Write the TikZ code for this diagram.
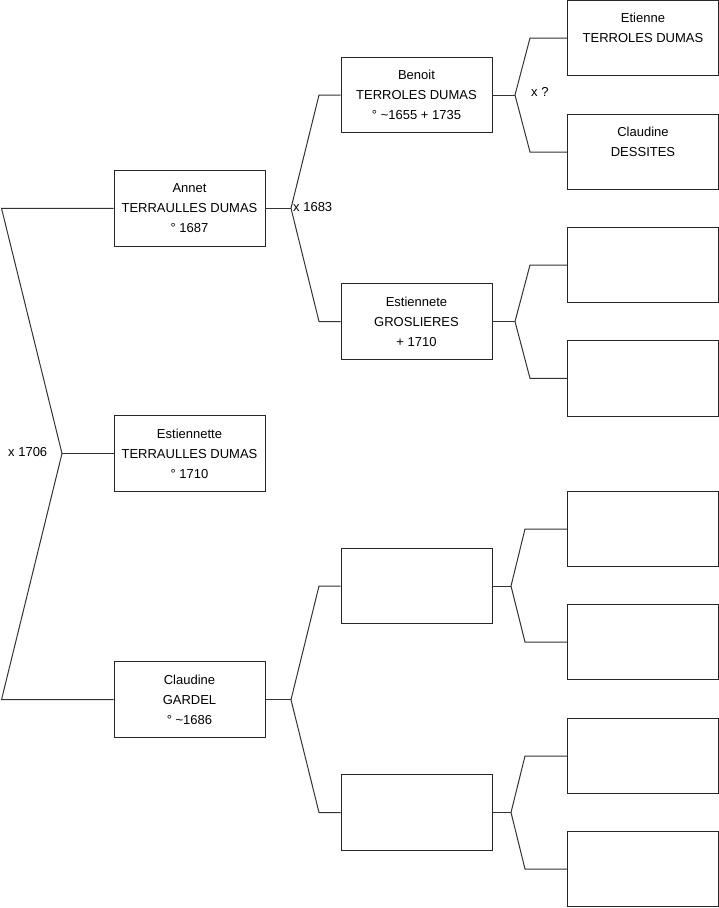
\documentclass[tikz,border=0pt]{standalone}
\usepackage{fontspec}
\setmainfont{Liberation Sans}
\begin{document}
\begin{tikzpicture}[x=1pt,y=-1pt,
  person/.style={draw=black!85,line width=1pt,fill=white,rectangle,minimum width=151pt,minimum height=75.5pt,inner sep=0pt,align=center,font=\fontsize{13}{20}\selectfont},
  link/.style={draw=black!80,line width=1pt},
  lbl/.style={inner sep=0pt,anchor=west,font=\fontsize{13}{16}\selectfont}]
\useasboundingbox (0,0) rectangle (719,908);
% generation 1
\node[person] (annet) at (189.5,208.3) {Annet\\TERRAULLES DUMAS\\° 1687};
\node[person] (estte) at (189.5,453.5) {Estiennette\\TERRAULLES DUMAS\\° 1710};
\node[person] (claud) at (189.5,699.7) {Claudine\\GARDEL\\° \textasciitilde1686};
% generation 2
\node[person] (benoit) at (416.5,95) {Benoit\\TERROLES DUMAS\\° \textasciitilde1655 + 1735};
\node[person] (grosl) at (416.5,321.5) {Estiennete\\GROSLIERES\\+ 1710};
\node[person] (cf) at (416.5,586) {};
\node[person] (cm) at (416.5,812.5) {};
% generation 3
\node[person] (etienne) at (643,38) {Etienne\\TERROLES DUMAS\\\phantom{X}};
\node[person] (dessites) at (643,152) {Claudine\\DESSITES\\\phantom{X}};
\node[person] (gf) at (643,265) {};
\node[person] (gm) at (643,378.3) {};
\node[person] (cff) at (643,529) {};
\node[person] (cfm) at (643,642) {};
\node[person] (cmf) at (643,756) {};
\node[person] (cmm) at (643,869) {};
% fork points
\coordinate (f0) at (62,453.5);
\coordinate (f0a) at (1.5,208.3);
\coordinate (f0c) at (1.5,699.7);
\coordinate (fa) at (291,208.3);
\coordinate (fb) at (515,95);
\coordinate (fg) at (515,321.5);
\coordinate (fc) at (291,699.7);
\coordinate (fcf) at (511,586);
\coordinate (fcm) at (511,812.5);
% connectors
\draw[link] (annet.west) -- (f0a) -- (f0) -- (f0c) -- (claud.west);
\draw[link] (f0) -- (estte.west);
\draw[link] (annet.east) -- (fa);
\draw[link] (benoit.west) -- (319,95) -- (fa) -- (319,321.5) -- (grosl.west);
\draw[link] (benoit.east) -- (fb);
\draw[link] (etienne.west) -- (530,38) -- (fb) -- (530,152) -- (dessites.west);
\draw[link] (grosl.east) -- (fg);
\draw[link] (gf.west) -- (530,265) -- (fg) -- (530,378.3) -- (gm.west);
\draw[link] (claud.east) -- (fc);
\draw[link] (cf.west) -- (319,586) -- (fc) -- (319,812.5) -- (cm.west);
\draw[link] (cf.east) -- (fcf);
\draw[link] (cff.west) -- (525,529) -- (fcf) -- (525,642) -- (cfm.west);
\draw[link] (cm.east) -- (fcm);
\draw[link] (cmf.west) -- (525,756) -- (fcm) -- (525,869) -- (cmm.west);
% marriage labels
\node[lbl] (m1706) at (8,452) {x 1706};
\node[lbl] (m1683) at (293,207) {x 1683};
\node[lbl] (mq) at (531,92) {x ?};
\end{tikzpicture}
\end{document}
